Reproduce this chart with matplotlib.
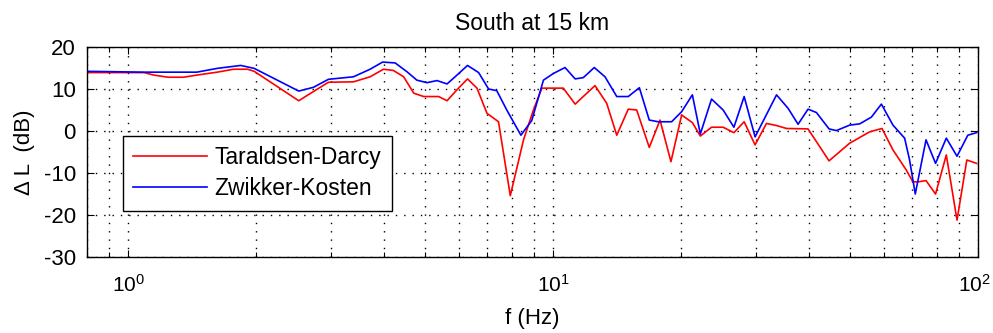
import numpy as np
import matplotlib
matplotlib.use('Agg')
import matplotlib.pyplot as plt
import matplotlib.transforms as mtransforms
from matplotlib.ticker import LogLocator, FixedLocator, FixedFormatter, NullFormatter

plt.rcParams['font.family'] = ['Liberation Sans', 'DejaVu Sans']
plt.rcParams['lines.scale_dashes'] = False
plt.rcParams['axes.unicode_minus'] = False

# level difference vs frequency, two impedance models
f_td = [0.80, 1.09, 1.15, 1.24, 1.35, 1.45, 1.62, 1.77, 1.91, 1.98, 2.52, 2.73,
        2.96, 3.39, 3.71, 3.99, 4.21, 4.45, 4.70, 4.96, 5.38, 5.63, 5.94, 6.29,
        6.62, 6.99, 7.44, 7.93, 8.52, 8.99, 9.41, 10.57, 11.27, 12.55, 13.37,
        14.12, 15.03, 15.73, 16.84, 17.85, 18.94, 20.07, 21.27, 22.21, 23.60,
        25.13, 26.64, 28.16, 29.88, 31.78, 33.56, 35.43, 39.81, 44.61, 49.89,
        55.59, 59.43, 63.07, 67.81, 70.27, 72.19, 75.45, 79.45, 84.22, 89.25,
        94.12, 99.2]
dl_td = [13.9, 13.9, 13.3, 12.8, 12.8, 13.3, 14.0, 14.7, 14.7, 14.2, 7.2, 9.4,
         11.6, 11.7, 12.9, 14.7, 14.4, 12.9, 9.0, 8.2, 8.2, 7.2, 9.8, 12.4,
         10.2, 4.2, 2.2, -15.4, -2.1, 5.0, 10.2, 10.2, 6.4, 10.8, 6.6,
         -1.0, 5.2, 5.0, -3.9, 2.6, -7.3, 3.8, 2.0, -1.2, 0.9,
         0.9, -0.4, 2.2, -3.3, 1.8, 1.3, 0.6, 0.5, -7.1, -2.9,
         -0.2, 0.6, -4.5, -9.3, -12.1, -12.1, -11.8, -15.0, -5.7, -21.2,
         -6.9, -7.7]

f_zk = [0.80, 1.09, 1.45, 1.62, 1.84, 1.98, 2.52, 2.73, 2.96, 3.39, 3.71, 3.97,
        4.25, 4.53, 4.78, 5.05, 5.33, 5.63, 5.88, 6.29, 6.68, 7.05, 7.37, 7.78,
        8.40, 8.91, 9.49, 10.02, 10.67, 11.27, 11.78, 12.50, 13.25, 14.12,
        15.03, 15.96, 16.84, 17.68, 19.01, 20.07, 21.27, 22.21, 23.60, 25.13,
        26.64, 28.16, 29.88, 33.56, 35.73, 37.72, 39.81, 41.66, 44.61, 46.42,
        49.89, 52.67, 56.11, 59.24, 63.07, 67.19, 69.02, 71.18, 75.45, 79.45,
        84.22, 89.25, 94.63, 99.2]
dl_zk = [14.2, 14.0, 14.0, 14.9, 15.6, 14.9, 9.5, 10.4, 12.3, 12.9, 14.7, 16.4,
         16.2, 14.1, 12.1, 11.5, 12.0, 11.2, 12.9, 15.6, 13.9, 10.0, 9.6, 5.0,
         -1.0, 2.5, 12.1, 13.7, 15.1, 12.4, 12.7, 15.1, 12.9, 8.2,
         8.2, 10.3, 2.6, 2.2, 2.2, 4.6, 8.6, -0.7, 7.6, 5.0,
         0.9, 8.2, -1.4, 8.6, 5.4, 1.6, 5.2, 4.4, 0.5, 0.1,
         1.4, 1.7, 3.3, 6.4, 1.4, -1.7, -6.9, -15.0, -2.1, -7.7,
         -1.7, -6.0, -1.0, -0.4]

xticks = [1, 10, 100]
xticklabels = [r'$\mathregular{10^{0}}$', r'$\mathregular{10^{1}}$', r'$\mathregular{10^{2}}$']
yticks = [-30, -20, -10, 0, 10, 20]

fig = plt.figure(figsize=(9.93, 3.33), dpi=100)
ax = fig.add_axes([0.0876, 0.228, 0.8973, 0.631])

ax.semilogx(f_td, dl_td, color='#ff0000', lw=1.2, label='Taraldsen-Darcy')
ax.semilogx(f_zk, dl_zk, color='#0000ff', lw=1.2, label='Zwikker-Kosten')

ax.set_xlim(0.8, 100)
ax.set_ylim(-30, 20)
ax.xaxis.set_major_locator(FixedLocator(xticks))
ax.xaxis.set_major_formatter(FixedFormatter(xticklabels))
ax.xaxis.set_minor_locator(LogLocator(base=10, subs=np.arange(2, 10)))
ax.xaxis.set_minor_formatter(NullFormatter())
ax.set_yticks(yticks)

ax.tick_params(which='both', direction='in', top=True, right=True, labelsize=16, pad=8)
ax.tick_params(axis='x', which='major', labelsize=15, pad=12)
ax.tick_params(which='major', length=5, width=0.8)
ax.tick_params(which='minor', length=3.5, width=0.8)

# last decade label sits at the figure edge, nudge it inwards a little
last = ax.get_xticklabels()[-1]
last.set_transform(last.get_transform() + mtransforms.ScaledTranslation(-4 / 100, 0, fig.dpi_scale_trans))

dots = (0, (1, 5))
ax.grid(True, which='major', axis='both', color='k', linestyle=dots, lw=1.0)
ax.grid(True, which='minor', axis='x', color='k', linestyle=dots, lw=1.0)

for sp in ax.spines.values():
    sp.set_linewidth(1.0)
    sp.set_color('k')

ax.set_title('South at 15 km', fontsize=16.5, pad=12)
ax.set_xlabel('f (Hz)', fontsize=16, labelpad=9)
ax.set_ylabel('\u0394 L  (dB)', fontsize=16, labelpad=6)

leg = ax.legend(loc='upper left', bbox_to_anchor=(0.0404, 0.576), borderaxespad=0,
                fontsize=16.5, frameon=True, fancybox=False, handlelength=3.2,
                handletextpad=0.35, borderpad=0.45, labelspacing=0.35)
leg.get_frame().set_edgecolor('k')
leg.get_frame().set_linewidth(1.0)
leg.get_frame().set_alpha(1)

fig.savefig('out.png', dpi=100)
